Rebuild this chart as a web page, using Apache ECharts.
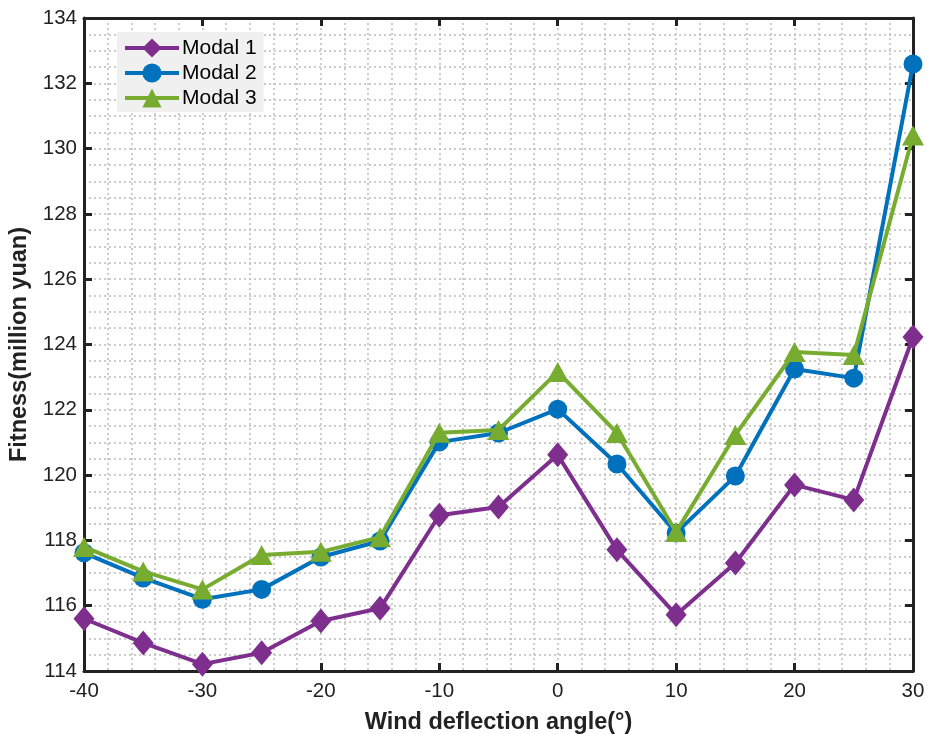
<!DOCTYPE html>
<html>
<head>
<meta charset="utf-8">
<script src="https://cdn.jsdelivr.net/npm/echarts@6/dist/echarts.min.js"></script>
<style>html,body{margin:0;padding:0;background:#fff}#c{width:927px;height:734px}</style>
</head>
<body>
<div id="c"></div>
<script>
const angles = [-40,-35,-30,-25,-20,-15,-10,-5,0,5,10,15,20,25,30];
const modal1 = [115.6,114.86,114.21,114.56,115.53,115.92,118.77,119.02,120.62,117.71,115.72,117.31,119.7,119.24,124.23];
const modal2 = [117.62,116.85,116.2,116.5,117.49,117.98,121.01,121.29,122.02,120.34,118.23,119.97,123.25,122.97,132.59];
const modal3 = [117.8,117.05,116.5,117.55,117.65,118.1,121.3,121.38,123.16,121.29,118.26,121.23,123.77,123.68,130.4];
const seriesNames = ['Modal 1','Modal 2','Modal 3'];

const FONT = 'Liberation Sans, Arial, Helvetica, sans-serif';
const gridLine = {show:true, lineStyle:{color:'#bcbcbc', width:1.5, type:[2,3]}};
const pair = ys => angles.map((a,i)=>[a, ys[i]]);

const chart = echarts.init(document.getElementById('c'), null, {renderer:'canvas'});
chart.setOption({
  animation:false,
  backgroundColor:'#fff',
  grid:{left:84, right:14, top:18, bottom:63, containLabel:false, outerBoundsMode:'none'},
  legend:{
    orient:'vertical', left:117, top:32,
    backgroundColor:'#f0f0f0', borderWidth:0,
    padding:[4,7,2,6], itemGap:1, itemWidth:54, itemHeight:24,
    lineStyle:{width:4},
    textStyle:{fontFamily:FONT, fontSize:21, color:'#000', padding:[0,0,0,-2], lineHeight:24},
    data:seriesNames
  },
  xAxis:[{
    type:'value', min:-40, max:30, interval:10,
    axisLine:{show:true, onZero:false, lineStyle:{color:'#222', width:3}},
    axisTick:{show:true, inside:true, length:8, lineStyle:{color:'#222', width:3}},
    axisLabel:{fontFamily:FONT, fontSize:20.5, color:'#222', margin:10},
    splitLine:gridLine,
    minorTick:{show:false, splitNumber:5},
    minorSplitLine:gridLine,
    name:'Wind deflection angle(°)', nameLocation:'middle', nameGap:40,
    nameTextStyle:{fontFamily:FONT, fontSize:23.5, fontWeight:'bold', color:'#222'}
  },{
    type:'value', position:'top', min:-40, max:30, interval:10,
    axisLine:{show:true, onZero:false, lineStyle:{color:'#222', width:3}},
    axisTick:{show:true, inside:true, length:8, lineStyle:{color:'#222', width:3}},
    axisLabel:{show:false}, splitLine:{show:false}
  }],
  yAxis:[{
    type:'value', min:114, max:134, interval:2,
    axisLine:{show:true, onZero:false, lineStyle:{color:'#222', width:3}},
    axisTick:{show:true, inside:true, length:8, lineStyle:{color:'#222', width:3}},
    axisLabel:{fontFamily:FONT, fontSize:20.5, color:'#222', margin:7},
    splitLine:gridLine,
    minorTick:{show:false, splitNumber:4},
    minorSplitLine:gridLine,
    name:'Fitness(million yuan)', nameLocation:'middle', nameGap:45, nameRotate:90,
    nameTextStyle:{fontFamily:FONT, fontSize:23.5, fontWeight:'bold', color:'#222'}
  },{
    type:'value', position:'right', min:114, max:134, interval:2,
    axisLine:{show:true, onZero:false, lineStyle:{color:'#222', width:3}},
    axisTick:{show:true, inside:true, length:8, lineStyle:{color:'#222', width:3}},
    axisLabel:{show:false}, splitLine:{show:false}
  }],
  series:[
    {name:seriesNames[0], type:'line', data:pair(modal1), symbol:'diamond', symbolSize:[21,25],
     itemStyle:{color:'#7E2F8E'}, lineStyle:{color:'#7E2F8E', width:4}, z:3},
    {name:seriesNames[1], type:'line', data:pair(modal2), symbol:'circle', symbolSize:19,
     itemStyle:{color:'#0072BD'}, lineStyle:{color:'#0072BD', width:4}, z:4},
    {name:seriesNames[2], type:'line', data:pair(modal3), symbol:'triangle', symbolSize:[22,20],
     itemStyle:{color:'#77AC30'}, lineStyle:{color:'#77AC30', width:4}, z:5}
  ]
});
</script>
</body>
</html>
